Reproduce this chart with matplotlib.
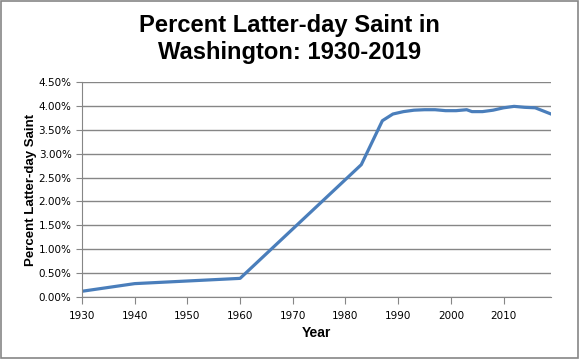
import numpy as np
import matplotlib.pyplot as plt
from matplotlib.ticker import FuncFormatter, MultipleLocator

years = [1930, 1940, 1960, 1983, 1987, 1989, 1991, 1993, 1995, 1997, 1999,
         2001, 2003, 2004, 2006, 2008, 2010, 2012, 2014, 2016, 2019]
pct = [0.12, 0.28, 0.39, 2.77, 3.69, 3.83, 3.88, 3.91, 3.92, 3.92, 3.90,
       3.90, 3.92, 3.88, 3.88, 3.91, 3.96, 3.99, 3.97, 3.96, 3.83]

title = "Percent Latter-day Saint in\nWashington: 1930-2019"

fig = plt.figure(figsize=(5.79, 3.59), dpi=100)
ax = fig.add_axes([82 / 579, 62 / 359, 469 / 579, 215 / 359])

ax.plot(years, pct, color="#4A7EBB", lw=2.3, solid_joinstyle="round")

ax.set_xlim(1930, 2019)
ax.set_ylim(0, 4.5)
ax.xaxis.set_major_locator(MultipleLocator(10))
ax.yaxis.set_major_locator(MultipleLocator(0.5))
ax.yaxis.set_major_formatter(FuncFormatter(lambda v, p: f"{v:.2f}%"))
ax.grid(axis="y", color="#868686", lw=1)
ax.set_axisbelow(True)

for s in ["top", "right"]:
    ax.spines[s].set_visible(False)
for s in ["left", "bottom"]:
    ax.spines[s].set_color("#868686")
ax.tick_params(axis="both", colors="#868686", length=4, labelsize=7.5,
               labelcolor="black", labelfontfamily="DejaVu Sans")
ax.tick_params(axis="x", length=5, pad=5)

ax.set_xlabel("Year", fontsize=10, fontweight="bold", family="Liberation Sans",
              labelpad=4)
ax.set_ylabel("Percent Latter-day Saint", fontsize=9.5, fontweight="bold",
              family="Liberation Sans", labelpad=1)

fig.text(0.5, 0.891, title, ha="center", va="center", fontsize=17.1,
         fontweight="bold", family="Liberation Sans", linespacing=1.2)

fig.patches.append(plt.Rectangle((0.001, 0.002), 0.997, 0.995, transform=fig.transFigure,
                                 fill=False, edgecolor="#868686", lw=1.2))

fig.savefig("out.png", dpi=100)
